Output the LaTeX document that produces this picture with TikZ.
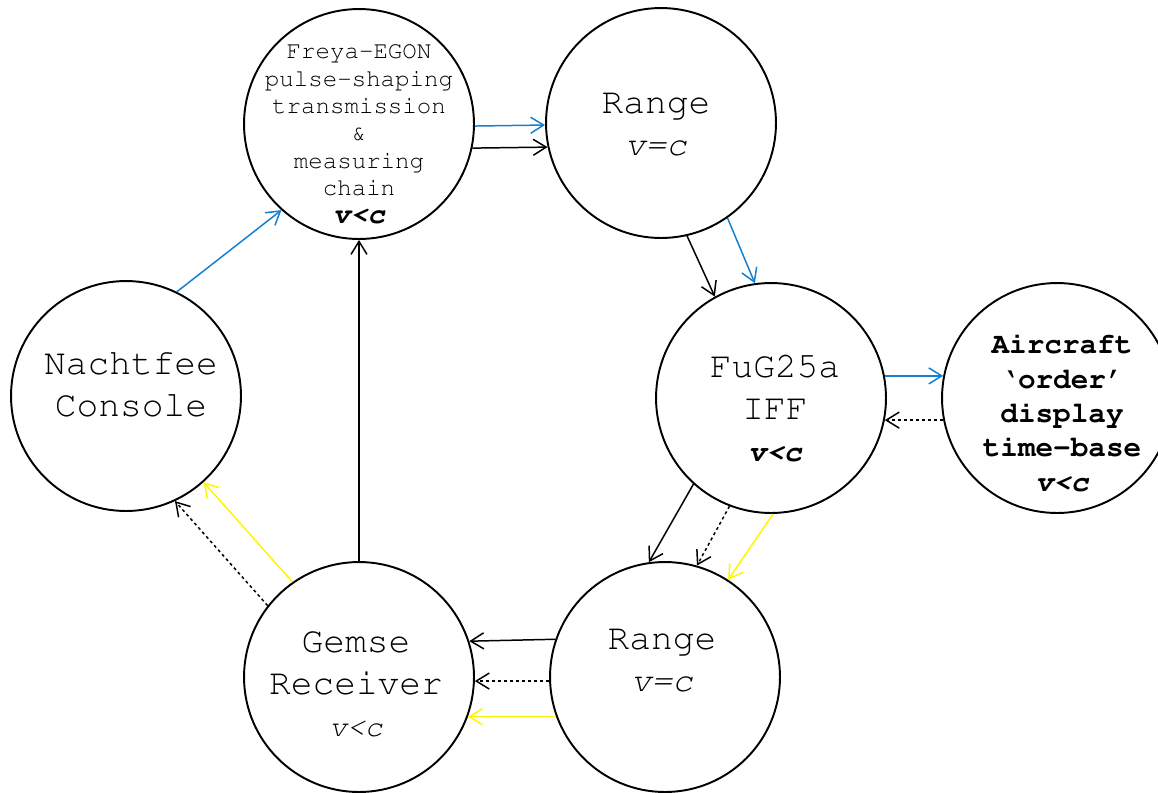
\documentclass[tikz,border=0pt]{standalone}
\usepackage[T1]{fontenc}
\renewcommand{\rmdefault}{pcr}
\usepackage{tikz}
\usetikzlibrary{arrows.meta}
\definecolor{sigblue}{RGB}{20,128,210}
\definecolor{sigyellow}{RGB}{255,245,0}
\tikzset{
    stage/.style={shape=circle, draw=black, line width=1.1pt, minimum size=4.6cm, inner sep=0pt},
    txt/.style={align=center, inner sep=0pt, font=\fontsize{20.6}{23.9}\selectfont},
    sig/.style={line width=0.85pt, -{Straight Barb[length=2.6mm,width=3.2mm]}},
    dotline/.style={sig, dash pattern=on 1.7pt off 1.7pt}}

\begin{document}
\begin{tikzpicture}[x=0.02cm, y=-0.02cm]

            \useasboundingbox (0,0) rectangle (1158,792);

            \node[stage] (F) at (359,124) {};
            \node[stage] (R1) at (661,123) {};
            \node[stage] (I) at (771,398) {};
            \node[stage] (A) at (1057,398) {};
            \node[stage] (N) at (126,396) {};
            \node[stage] (G) at (359,677) {};
            \node[stage] (R2) at (665,677) {};

            \node[txt, font=\fontsize{13.75}{15.6}\selectfont] (Ft) at (359,134) {Freya-EGON\\pulse-shaping\\transmission\\\&\\measuring\\chain\\{\fontsize{16.3}{15.6}\selectfont\bfseries\itshape v<c}};
            \node[txt] (R1t) at (656,125) {Range\\{\fontsize{19.5}{23.9}\selectfont\itshape v=c}};
            \node[txt] (It) at (775,408) {FuG25a\\IFF\\{\fontsize{16.9}{23.9}\selectfont\bfseries\itshape v<c}};
            \node[txt, font=\fontsize{16.7}{19.6}\selectfont\bfseries] (At) at (1062,413) {Aircraft\\`order'\\display\\time-base\\{\itshape v<c}};
            \node[txt] (Nt) at (131,384) {Nachtfee\\Console};
            \node[txt] (Gt) at (356,684) {Gemse\\Receiver\\{\fontsize{16.9}{23.9}\selectfont\itshape v<c}};
            \node[txt] (R2t) at (662,661) {Range\\{\fontsize{19.5}{23.9}\selectfont\itshape v=c}};

            \draw[sig, sigblue] (F.-1) -- (R1.181.5);
            \draw[sig] (F.-12.2) -- (R1.192.6);
            \draw[sig, sigblue] (N.64) -- (F.-132.6);
            \draw[sig] (G.90) -- (F.270);
            \draw[sig] (R1.-77) -- (I.119);
            \draw[sig, sigblue] (R1.-55.8) -- (I.98.2);
            \draw[sig, sigblue] (I.11) -- (A.169);
            \draw[dotline] (A.191.5) -- (I.-11.5);
            \draw[sig] (I.-132.3) -- (R2.98.7);
            \draw[dotline] (I.-111.3) -- (R2.74.3);
            \draw[sig, sigyellow] (I.-89) -- (R2.57);
            \draw[sig] (R2.161.2) -- (G.18.8);
            \draw[dotline] (R2.182.5) -- (G.-2.5);
            \draw[sig, sigyellow] (R2.200.9) -- (G.-20.9);
            \draw[sig, sigyellow] (G.125.2) -- (N.-48.8);
            \draw[dotline] (G.142.7) -- (N.-65.8);

        \end{tikzpicture}
\end{document}
